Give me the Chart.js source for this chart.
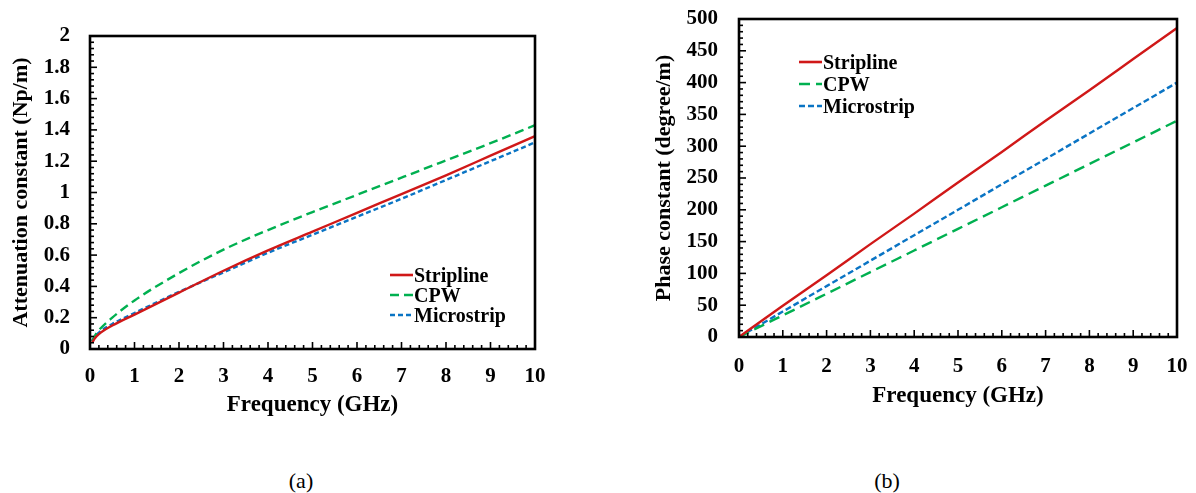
<!DOCTYPE html>
<html><head><meta charset="utf-8">
<script src="https://cdn.jsdelivr.net/npm/chart.js@4.4.1/dist/chart.umd.min.js"></script>
<style>
html,body{margin:0;padding:0;background:#fff;width:1196px;height:493px;overflow:hidden;}
#wa{position:absolute;left:0;top:0;width:560px;height:430px;}
#wb{position:absolute;left:600px;top:0;width:596px;height:430px;}
.cap{position:absolute;font-family:"Liberation Serif","Times New Roman",serif;font-size:22px;color:#000;transform:translate(-50%,-50%);white-space:nowrap;}
</style></head><body>
<div id="wa"><canvas id="ca" width="560" height="430"></canvas></div>
<div id="wb"><canvas id="cb" width="596" height="430"></canvas></div>
<div class="cap" style="left:301px;top:481px;">(a)</div>
<div class="cap" style="left:887px;top:481px;">(b)</div>
<script>
// ---- data (a) attenuation constant ----
const freqA = [0.05, 0.1, 0.2, 0.5, 1, 2, 3, 4, 5, 6, 7, 8, 9, 10];
const attStripline  = [0.04, 0.065, 0.095, 0.15, 0.22, 0.36, 0.50, 0.63, 0.75, 0.87, 0.99, 1.11, 1.235, 1.36];
const attCPW        = [0.05, 0.08, 0.12, 0.20, 0.31, 0.485, 0.635, 0.76, 0.875, 0.985, 1.095, 1.205, 1.315, 1.43];
const attMicrostrip = [0.05, 0.075, 0.105, 0.16, 0.23, 0.365, 0.49, 0.615, 0.73, 0.845, 0.96, 1.08, 1.20, 1.32];
const yTicksA = ['0','0.2','0.4','0.6','0.8','1','1.2','1.4','1.6','1.8','2'];
// ---- data (b) phase constant ----
const freqB = [0, 1, 2, 3, 4, 5, 6, 7, 8, 9, 10];
const phStripline  = [0, 49, 97, 146, 194, 243, 291, 340, 388, 437, 486];
const phCPW        = [0, 34, 68, 102, 136, 170, 204, 238, 272, 306, 340];
const phMicrostrip = [0, 40, 80, 120, 160, 200, 240, 280, 320, 360, 400];
const yTicksB = ['0','50','100','150','200','250','300','350','400','450','500'];
const xTicks = ['0','1','2','3','4','5','6','7','8','9','10'];
const seriesNames = ['Stripline', 'CPW', 'Microstrip'];

const FONT = "'Liberation Serif','Times New Roman',serif";
const RED = '#d01818', GREEN = '#00b050', BLUE = '#0a74c4';

const toXY = (xs, ys) => xs.map((x, i) => ({x, y: ys[i]}));

const framePlugin = {
  id: 'frame',
  afterDatasetsDraw(chart, args, o) {
    const {ctx, chartArea: a, scales: {x, y}} = chart;
    ctx.save();
    ctx.strokeStyle = '#000';
    ctx.lineWidth = 1.6;
    const nx = Math.round((x.max - x.min) / o.xMinor);
    for (let i = 0; i <= nx; i++) {
      const v = x.min + i * o.xMinor;
      const px = x.getPixelForValue(v);
      const len = (i % o.xPer === 0) ? 7 : 4;
      ctx.beginPath(); ctx.moveTo(px, a.bottom); ctx.lineTo(px, a.bottom - len); ctx.stroke();
    }
    const ny = Math.round((y.max - y.min) / o.yMinor);
    for (let i = 0; i <= ny; i++) {
      const v = y.min + i * o.yMinor;
      const py = y.getPixelForValue(v);
      const len = (i % o.yPer === 0) ? 7 : 4;
      ctx.beginPath(); ctx.moveTo(a.left, py); ctx.lineTo(a.left + len, py); ctx.stroke();
    }
    ctx.lineWidth = 2.6;
    ctx.strokeRect(a.left, a.top, a.right - a.left, a.bottom - a.top);
    ctx.restore();
  }
};

const legendPlugin = {
  id: 'inlegend',
  afterDraw(chart, args, o) {
    const {ctx} = chart;
    ctx.save();
    chart.data.datasets.forEach((ds, i) => {
      const cy = o.y + i * o.dy;
      ctx.strokeStyle = ds.borderColor;
      ctx.lineWidth = 2.6;
      ctx.setLineDash(ds.borderDash || []);
      ctx.beginPath(); ctx.moveTo(o.x, cy); ctx.lineTo(o.x + o.len, cy); ctx.stroke();
      ctx.setLineDash([]);
      ctx.fillStyle = '#000';
      ctx.font = 'bold 20px ' + FONT;
      ctx.textBaseline = 'alphabetic';
      ctx.textAlign = 'left';
      ctx.fillText(ds.label, o.x + o.len + 1, cy + 6.8);
    });
    ctx.restore();
  }
};

function makeChart(id, cfg) {
  const dsStyle = [
    {borderColor: RED, borderDash: []},
    {borderColor: GREEN, borderDash: cfg.greenDash},
    {borderColor: BLUE, borderDash: cfg.blueDash}
  ];
  return new Chart(document.getElementById(id), {
    type: 'line',
    data: {
      datasets: cfg.series.map((ys, i) => ({
        label: seriesNames[i],
        data: toXY(cfg.xs, ys),
        borderColor: dsStyle[i].borderColor,
        borderDash: dsStyle[i].borderDash,
        borderWidth: 2.4,
        pointRadius: 0,
        fill: false,
        cubicInterpolationMode: 'monotone'
      }))
    },
    options: {
      responsive: false,
      animation: false,
      events: [],
      layout: {padding: {top: cfg.top, right: cfg.right, left: 0, bottom: 0}},
      plugins: {
        legend: {display: false},
        tooltip: {enabled: false},
        frame: {xMinor: 0.2, xPer: 5, yMinor: cfg.yMinor, yPer: 5},
        inlegend: cfg.legend
      },
      scales: {
        x: {
          type: 'linear', min: 0, max: 10,
          grid: {display: false, drawTicks: false},
          border: {display: false},
          ticks: {stepSize: 1, padding: cfg.xPad, color: '#000',
                  font: {family: FONT, size: 21, weight: 'bold'},
                  maxRotation: 0, autoSkip: false,
                  callback: (v, i) => xTicks[i]},
          title: {display: true, text: 'Frequency (GHz)', color: '#000',
                  font: {family: FONT, size: 23, weight: 'bold'},
                  padding: {top: 0, bottom: cfg.xTitlePad}},
          afterFit: s => { s.height = cfg.xH; s.paddingLeft = 0; s.paddingRight = 0; s.paddingTop = 0; s.paddingBottom = 0; }
        },
        y: {
          type: 'linear', min: 0, max: cfg.yMax,
          grid: {display: false, drawTicks: false},
          border: {display: false},
          ticks: {stepSize: cfg.yStep, padding: cfg.yPad, color: '#000',
                  font: {family: FONT, size: 21, weight: 'bold'},
                  autoSkip: false,
                  callback: (v, i) => cfg.yLabels[i]},
          title: {display: true, text: cfg.yTitle, color: '#000',
                  font: {family: FONT, size: 22, weight: 'bold'},
                  padding: {top: cfg.yTitlePad, bottom: 0}},
          afterFit: s => { s.width = cfg.yW; s.paddingTop = 0; s.paddingBottom = 0; s.paddingLeft = 0; s.paddingRight = 0; }
        }
      }
    },
    plugins: [framePlugin, legendPlugin]
  });
}

makeChart('ca', {
  xs: freqA, series: [attStripline, attCPW, attMicrostrip],
  greenDash: [9, 5], blueDash: [5, 3],
  top: 36, right: 25, xH: 81, yW: 90,
  yMax: 2, yStep: 0.2, yMinor: 0.04, yLabels: yTicksA,
  xPad: 15, yPad: 20, xTitlePad: 11, yTitlePad: 7.7,
  yTitle: 'Attenuation constant (Np/m)',
  legend: {x: 390, y: 275, dy: 20, len: 23}
});

makeChart('cb', {
  xs: freqB, series: [phStripline, phCPW, phMicrostrip],
  greenDash: [11, 6], blueDash: [6, 3],
  top: 19, right: 19, xH: 93, yW: 139,
  yMax: 500, yStep: 50, yMinor: 10, yLabels: yTicksB,
  xPad: 17, yPad: 21, xTitlePad: 20, yTitlePad: 51,
  yTitle: 'Phase constant (degree/m)',
  legend: {x: 199, y: 62, dy: 22, len: 23}
});
</script>
</body></html>
